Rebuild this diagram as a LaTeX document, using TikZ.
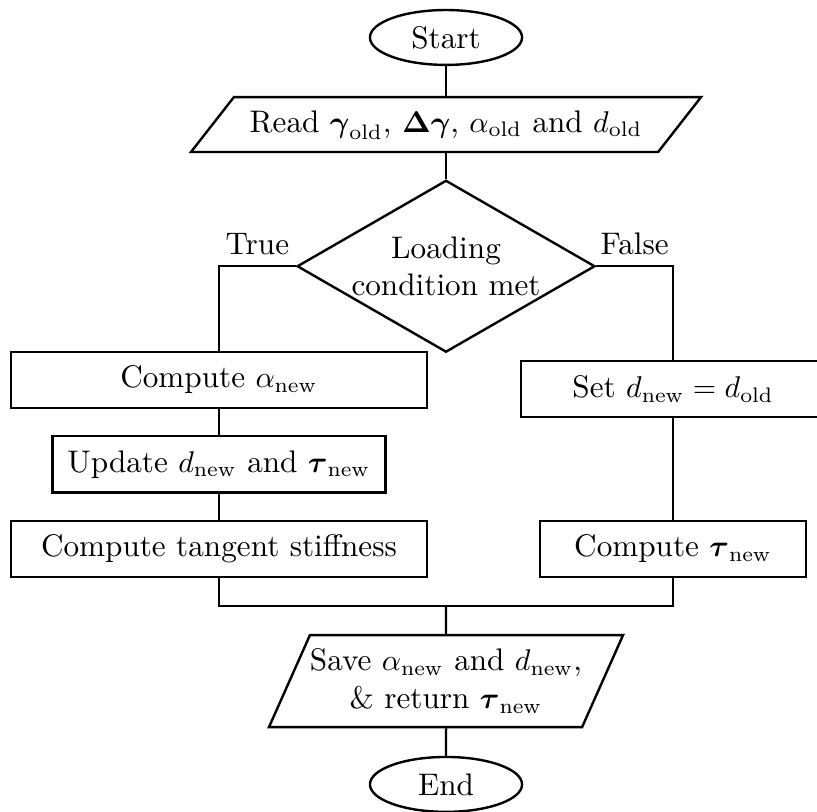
\documentclass[tikz,border=0pt]{standalone}
\usepackage{amsmath,amssymb}
\usepackage{tikz}
\usetikzlibrary{shapes.geometric}

\begin{document}
\begin{tikzpicture}[line width=0.8pt,
    every node/.style={font=\fontsize{10.4pt}{12.6pt}\selectfont},
    terminal/.style={draw, ellipse, inner sep=0pt, minimum width=50.7pt, minimum height=18.3pt},
    io/.style={draw, trapezium, trapezium stretches body=true, inner xsep=0pt},
    process/.style={draw, rectangle, inner sep=0pt, minimum height=18.7pt},
    decision/.style={draw, diamond, aspect=1.73, inner sep=0pt, minimum width=99.3pt, minimum height=57.3pt, align=center}]

    % Page size
    \useasboundingbox (-5.225,0.439) rectangle (4.346,-9.073);

    % Start and input
    \node[terminal] (start) at (0,0) {Start};
    \node[io, trapezium left angle=52, trapezium right angle=128, text height=7.5pt, text depth=2.5pt, inner ysep=4.15pt, minimum width=170pt] (read) at (0,-1.02) {Read $\boldsymbol{\gamma}_{\mathrm{old}}$, $\boldsymbol{\Delta\gamma}$, $\alpha_{\mathrm{old}}$ and $d_{\mathrm{old}}$};

    % Loading check
    \node[decision] (cond) at (0,-2.68) {Loading\\condition met};

    % True branch
    \node[process, minimum width=138.7pt] (calpha) at (-2.66,-4.01) {Compute $\alpha_{\mathrm{new}}$};
    \node[process, minimum width=111pt] (update) at (-2.66,-5.0) {Update $d_{\mathrm{new}}$ and $\boldsymbol{\tau}_{\mathrm{new}}$};
    \node[process, minimum width=138.7pt] (tangent) at (-2.66,-5.99) {Compute tangent stiffness};

    % False branch
    \node[process, minimum width=101.3pt] (setd) at (2.66,-4.12) {Set $d_{\mathrm{new}} = d_{\mathrm{old}}$};
    \node[process, minimum width=88.7pt] (ctau) at (2.66,-5.99) {Compute $\boldsymbol{\tau}_{\mathrm{new}}$};

    % Output and end
    \coordinate (join) at (0,-6.66);
    \node[io, trapezium left angle=66, trapezium right angle=114, inner ysep=4.6pt, minimum width=113.3pt, align=center] (save) at (0,-7.54) {Save $\alpha_{\mathrm{new}}$ and $d_{\mathrm{new}}$,\\\& return $\boldsymbol{\tau}_{\mathrm{new}}$};
    \node[terminal] (stop) at (0,-8.75) {End};

    % Connectors
    \draw (start) -- (start |- read.north);
    \draw (cond.north |- read.south) -- (cond);
    \draw (cond.west) -| (calpha.north) node[pos=0.25, above] {True};
    \draw (cond.east) -| (setd.north) node[pos=0.25, above] {False};
    \draw (calpha) -- (update);
    \draw (update) -- (tangent);
    \draw (setd) -- (ctau);
    \draw (tangent.south) |- (join) -| (ctau.south);
    \draw (join) -- (save);
    \draw (save) -- (stop);
\end{tikzpicture}
\end{document}
